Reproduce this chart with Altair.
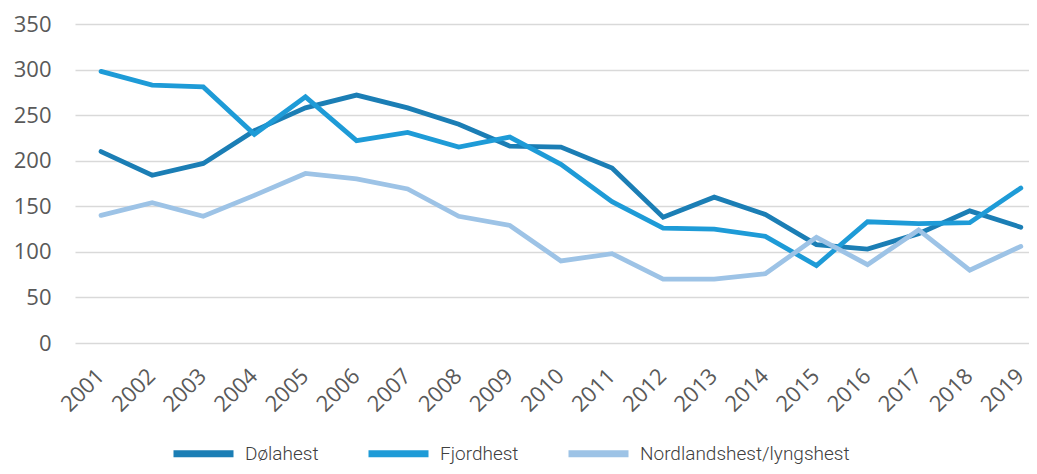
import altair as alt
import pandas as pd

years = list(range(2001, 2020))
series_names = ["Dølahest", "Fjordhest", "Nordlandshest/lyngshest"]
dolahest = [210, 184, 197, 233, 258, 272, 258, 240, 216, 215, 192, 138, 160, 141, 108, 103, 120, 145, 127]
fjordhest = [298, 283, 281, 229, 270, 222, 231, 215, 226, 196, 155, 126, 125, 117, 85, 133, 131, 132, 170]
nordland = [140, 154, 139, 162, 186, 180, 169, 139, 129, 90, 98, 70, 70, 76, 116, 86, 124, 80, 106]
colors = ["#1B7EB5", "#1E9BD7", "#9DC3E6"]
y_ticks = [0, 50, 100, 150, 200, 250, 300, 350]

rows = []
for name, vals in zip(series_names, [dolahest, fjordhest, nordland]):
    for yr, v in zip(years, vals):
        rows.append({"year": yr, "value": v, "series": name})
df = pd.DataFrame(rows)

chart = alt.Chart(df).mark_line(strokeWidth=4.8, strokeCap="round").encode(
    x=alt.X("year:Q",
            scale=alt.Scale(domain=[2000.49, 2019.16], nice=False, zero=False),
            axis=alt.Axis(values=years, format="d", labelAngle=-45, title=None,
                          grid=False, domain=False, ticks=False, labelPadding=22,
                          labelOverlap=False, labelOffset=-8, labelBound=False,
                          labelFont="Open Sans", labelFontSize=22, labelColor="#595959")),
    y=alt.Y("value:Q",
            scale=alt.Scale(domain=[0, 350], nice=False),
            axis=alt.Axis(values=y_ticks, title=None, domain=False, ticks=False,
                          gridColor="#d9d9d9", gridWidth=1.5, labelPadding=24,
                          labelFont="Open Sans", labelFontSize=22, labelColor="#595959")),
    color=alt.Color("series:N",
                    scale=alt.Scale(domain=series_names, range=colors),
                    legend=alt.Legend(title=None, orient="none", direction="horizontal",
                                      legendX=95, legendY=396,
                                      symbolType="stroke", symbolSize=3600,
                                      symbolStrokeWidth=7, columnPadding=35,
                                      labelFont="Roboto", labelFontWeight=300,
                                      labelFontSize=19, labelLimit=400,
                                      labelColor="#404040", labelOffset=8)),
).properties(
    width=954, height=319,
    padding={"left": 67, "top": 16, "right": 0, "bottom": 123},
    autosize=alt.AutoSizeParams(type="none"),
).configure_view(stroke=None)

chart.save("out.html", embed_options={"renderer": "svg", "actions": False})
